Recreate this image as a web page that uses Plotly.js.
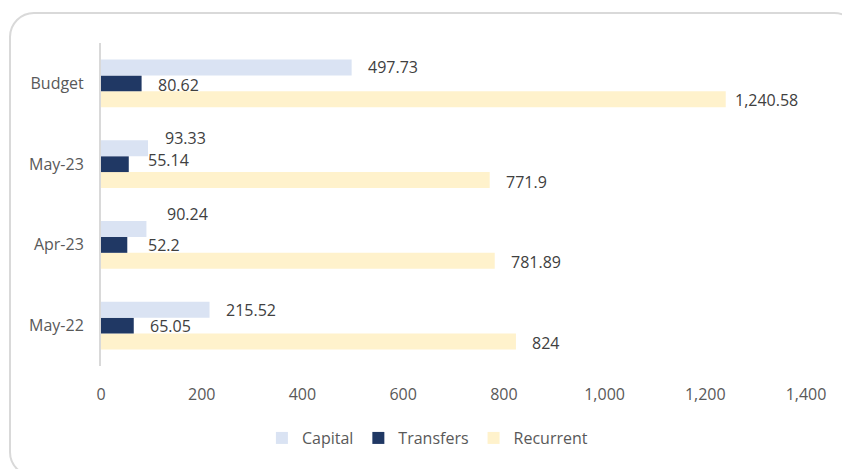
<!DOCTYPE html>
<html>
<head>
<meta charset="utf-8">
<script src="https://cdn.plot.ly/plotly-3.0.1.min.js"></script>
<style>
  html, body { margin: 0; padding: 0; background: #ffffff; overflow: hidden; }
  #wrap { position: relative; width: 842px; height: 469px; overflow: hidden; }
  #frame { position: absolute; left: 9px; top: 12px; width: 850px; height: 465px;
           border: 2px solid #d9d9d9; border-radius: 25px; box-sizing: border-box; }
  #chart { position: absolute; left: 0; top: 0; width: 842px; height: 469px; }
</style>
</head>
<body>
<div id="wrap">
  <div id="frame"></div>
  <div id="chart"></div>
</div>
<script>
const categories = ["May-22", "Apr-23", "May-23", "Budget"];
const capital    = [215.52, 90.24, 93.33, 497.73];
const transfers  = [65.05, 52.2, 55.14, 80.62];
const recurrent  = [824, 781.89, 771.9, 1240.58];
const xTicks     = [0, 200, 400, 600, 800, 1000, 1200, 1400];

const FONT = "'Open Sans', 'Noto Sans', sans-serif";
const fmt = v => v.toLocaleString('en-US', {maximumFractionDigits: 2});

// manual label nudges seen in the reference: [dx px, dy px (down positive)]
const labelNudge = {
  Capital:   {"May-23": [1, -10], "Apr-23": [5, -15]},
  Transfers: {"May-23": [3, -4], "Apr-23": [5, 0], "Budget": [0, 2]},
  Recurrent: {"Budget": [-7, 1], "May-23": [0, 2], "Apr-23": [0, 1], "May-22": [0, 1]}
};

// plotted bottom-to-top within a group: Recurrent, Transfers, Capital
const series = [
  {name: "Recurrent", values: recurrent, color: "#fff2cc", rank: 3, shift: -1},
  {name: "Transfers", values: transfers, color: "#203864", rank: 2, shift: 0},
  {name: "Capital",   values: capital,   color: "#dae3f3", rank: 1, shift: 1}
];

const traces = series.map(s => ({
  type: "bar",
  orientation: "h",
  name: s.name,
  y: categories,
  x: s.values,
  marker: {color: s.color},
  legendrank: s.rank,
  hoverinfo: "x+name"
}));

const barGap = 0.41;
const plotH = 469 - 43 - 103;
const catPx = plotH / categories.length;
const barPx = catPx * (1 - barGap) / 3;

const annotations = [];
series.forEach(s => {
  s.values.forEach((v, i) => {
    const n = (labelNudge[s.name] || {})[categories[i]] || [0, 0];
    annotations.push({
      x: v, y: categories[i], xref: "x", yref: "y",
      text: fmt(v), showarrow: false,
      xanchor: "left", yanchor: "middle",
      xshift: 14 + n[0], yshift: s.shift * barPx - n[1],
      font: {family: FONT, size: 16, color: "#404040"}
    });
  });
});

const layout = {
  width: 842, height: 469,
  margin: {l: 101, r: 36, t: 43, b: 103},
  paper_bgcolor: "rgba(0,0,0,0)",
  plot_bgcolor: "rgba(0,0,0,0)",
  barmode: "group",
  bargap: barGap,
  bargroupgap: 0,
  showlegend: true,
  legend: {
    orientation: "h", xref: "paper", yref: "paper",
    x: 0.463, xanchor: "center", y: -0.223, yanchor: "middle",
    font: {family: FONT, size: 16, color: "#595959"},
    itemwidth: 30, traceorder: "normal"
  },
  xaxis: {
    range: [0, 1400], tickvals: xTicks, tickformat: ",",
    showgrid: false, zeroline: false, showline: false,
    ticks: "", ticklabelstandoff: 17,
    tickfont: {family: FONT, size: 16, color: "#595959"},
    fixedrange: true
  },
  yaxis: {
    type: "category", categoryorder: "array", categoryarray: categories,
    showgrid: false, zeroline: false,
    showline: true, linecolor: "#d9d9d9", linewidth: 2,
    ticks: "", ticklabelstandoff: 12,
    tickfont: {family: FONT, size: 16, color: "#595959"},
    fixedrange: true
  },
  annotations: annotations,
  font: {family: FONT}
};

Plotly.newPlot("chart", traces, layout, {displayModeBar: false, staticPlot: true});
</script>
</body>
</html>
